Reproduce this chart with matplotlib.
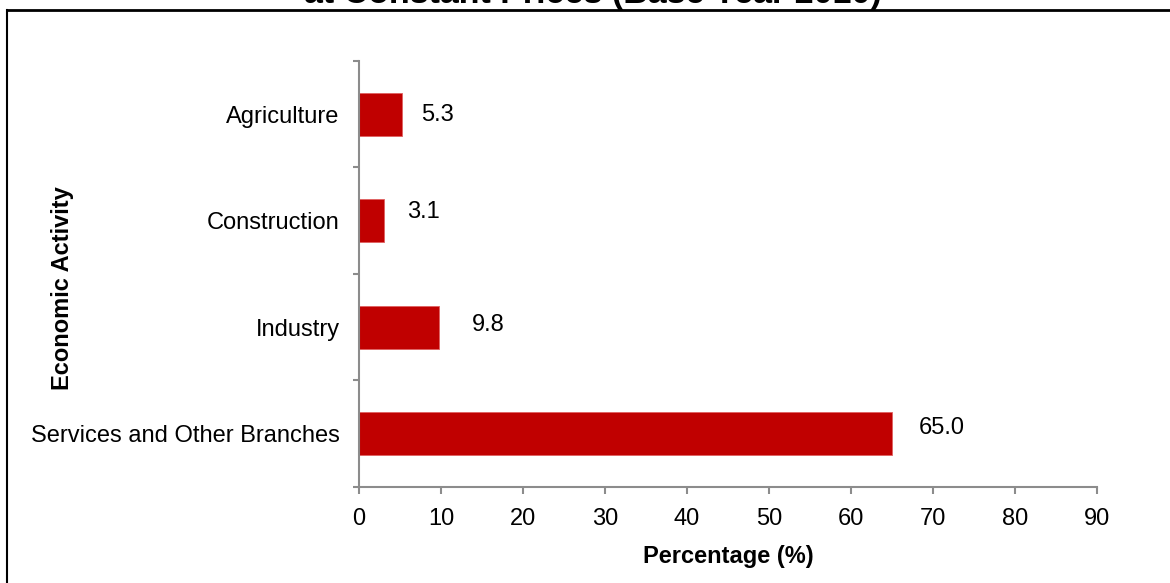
import matplotlib.pyplot as plt
from matplotlib.lines import Line2D

plt.rcParams['font.family'] = ['Liberation Sans', 'DejaVu Sans']

# data (top to bottom)
activities = ["Agriculture", "Construction", "Industry", "Services and Other Branches"]
shares = [5.3, 3.1, 9.8, 65.0]

# label nudges in pixels (right, up), as placed in the original chart
label_nudge = [(19, -1), (23, 9), (33, 2), (27, 6)]

bar_color = "#C00000"
axis_color = "#8C8C8C"

fig = plt.figure(figsize=(11.7, 5.83), dpi=100)
ax = fig.add_axes([0.3068, 0.1647, 0.6308, 0.7307])

ypos = list(range(len(activities)))[::-1]
ax.barh(ypos, shares, height=0.4, color=bar_color, edgecolor="#E06060", linewidth=0.6)

for y, v, (dx, dy) in zip(ypos, shares, label_nudge):
    ax.annotate(f"{v:.1f}", xy=(v, y), xytext=(dx * 0.72, dy * 0.72), textcoords="offset points",
                ha="left", va="center", fontsize=17)

ax.set_xlim(0, 90)
ax.set_ylim(-0.5, 3.5)
ax.set_xticks(range(0, 91, 10))
ax.set_yticks(ypos)
ax.set_yticklabels(activities)
ax.set_yticks([-0.5, 0.5, 1.5, 2.5, 3.5], minor=True)
ax.tick_params(axis="y", which="major", length=0, pad=14, labelsize=17)
ax.tick_params(axis="y", which="minor", length=4.5, color=axis_color, direction="out", width=1.5)
ax.tick_params(axis="x", length=5, color=axis_color, width=1.5, labelsize=17, pad=10)

for s in ["top", "right"]:
    ax.spines[s].set_visible(False)
for s in ["left", "bottom"]:
    ax.spines[s].set_color(axis_color)
    ax.spines[s].set_linewidth(1.5)

ax.set_xlabel("Percentage (%)", fontsize=17, fontweight="bold", labelpad=11)
fig.text(0.053, 0.506, "Economic Activity", rotation=90, ha="center", va="center",
         fontsize=17, fontweight="bold")

# title cut off at the top of the frame
fig.text(0.507, 0.995, "at Constant Prices (Base Year 2010)", ha="center", va="baseline",
         fontsize=24.5, fontweight="bold")

# frame border lines
fig.add_artist(Line2D([0.006, 1.0], [0.982, 0.982], transform=fig.transFigure, color="black", lw=2))
fig.add_artist(Line2D([0.006, 0.006], [0.0, 0.982], transform=fig.transFigure, color="black", lw=1.5))

fig.savefig("out.png", dpi=100)
